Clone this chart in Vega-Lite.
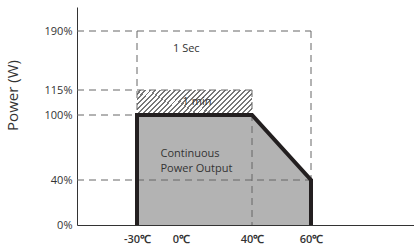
{
  "$schema": "https://vega.github.io/schema/vega-lite/v6.json",
  "autosize": "none",
  "width": 337,
  "height": 218,
  "padding": {"left": 77, "top": 7, "right": 0, "bottom": 24},
  "background": "white",
  "config": {"view": {"stroke": null}, "font": "Open Sans"},
  "datasets": {
    "area": [{"t": -30, "p": 100}, {"t": 40, "p": 100}, {"t": 60, "p": 40}],
    "hatch": [{"t": -30, "t2": 40, "p": 100, "p2": 115}],
    "dashes": [
      {"x": -71, "x2": 60, "y": 190, "y2": 190},
      {"x": 60, "x2": 60, "y": 190, "y2": 40},
      {"x": -30, "x2": -30, "y": 190, "y2": 100},
      {"x": -71, "x2": 40, "y": 115, "y2": 115},
      {"x": -71, "x2": -30, "y": 100, "y2": 100},
      {"x": -71, "x2": 60, "y": 40, "y2": 40},
      {"x": 40, "x2": 40, "y": 115, "y2": 0}
    ],
    "outline": [
      {"o": 1, "t": -30, "p": 0},
      {"o": 2, "t": -30, "p": 100},
      {"o": 3, "t": 40, "p": 100},
      {"o": 4, "t": 60, "p": 40},
      {"o": 5, "t": 60, "p": 0}
    ],
    "clabels": [
      {"t": 3, "p": 167, "text": "1 Sec"},
      {"t": 9, "p": 108, "text": "1 min"}
    ],
    "llabels": [
      {"t": -14, "p": 64, "text": "Continuous"},
      {"t": -14, "p": 50, "text": "Power Output"}
    ]
  },
  "encoding": {
    "x": {
      "type": "quantitative",
      "scale": {"domain": [-71, -30, 0, 40, 60, 95], "range": [0, 60, 104, 175, 234, 337], "zero": false, "nice": false},
      "axis": {"values": [-30, 0, 40, 60], "labelExpr": "datum.value + '℃'", "title": null, "ticks": false, "grid": false, "domainColor": "#333", "labelColor": "#333", "labelFontSize": 11, "labelPadding": 8, "labelFont": "Open Sans", "labelFontWeight": 600}
    },
    "y": {
      "type": "quantitative",
      "scale": {"domain": [0, 40, 100, 115, 190, 220], "range": [218, 173, 108, 83, 24, 0], "zero": false, "nice": false},
      "axis": {"values": [0, 40, 100, 115, 190], "labelExpr": "datum.value + '%'", "title": "Power (W)", "titleFontSize": 15, "titleFontWeight": "normal", "titleColor": "#333", "titleFont": "Open Sans", "titleX": -65, "titleY": 88, "titleAngle": -90, "titleAlign": "center", "titleBaseline": "middle", "ticks": false, "grid": false, "domainColor": "#333", "labelColor": "#333", "labelFontSize": 11, "labelPadding": 5, "labelFont": "Open Sans"}
    }
  },
  "layer": [
    {
      "data": {"name": "area"},
      "mark": {"type": "area", "color": "#b3b3b3"},
      "encoding": {"x": {"field": "t"}, "y": {"field": "p"}, "y2": {"datum": 0}}
    },
    {
      "data": {"name": "hatch"},
      "mark": {"type": "rect", "fill": {"gradient": "linear", "x1": 0, "y1": 0, "x2": 1.162, "y2": 0.252, "stops": [
        {"offset": 0, "color": "#fff"}, {"offset": 0.0214, "color": "#fff"}, {"offset": 0.0214, "color": "#777"}, {"offset": 0.0357, "color": "#777"},
        {"offset": 0.0357, "color": "#fff"}, {"offset": 0.0571, "color": "#fff"}, {"offset": 0.0571, "color": "#777"}, {"offset": 0.0714, "color": "#777"},
        {"offset": 0.0714, "color": "#fff"}, {"offset": 0.0929, "color": "#fff"}, {"offset": 0.0929, "color": "#777"}, {"offset": 0.1071, "color": "#777"},
        {"offset": 0.1071, "color": "#fff"}, {"offset": 0.1286, "color": "#fff"}, {"offset": 0.1286, "color": "#777"}, {"offset": 0.1429, "color": "#777"},
        {"offset": 0.1429, "color": "#fff"}, {"offset": 0.1643, "color": "#fff"}, {"offset": 0.1643, "color": "#777"}, {"offset": 0.1786, "color": "#777"},
        {"offset": 0.1786, "color": "#fff"}, {"offset": 0.2, "color": "#fff"}, {"offset": 0.2, "color": "#777"}, {"offset": 0.2143, "color": "#777"},
        {"offset": 0.2143, "color": "#fff"}, {"offset": 0.2357, "color": "#fff"}, {"offset": 0.2357, "color": "#777"}, {"offset": 0.25, "color": "#777"},
        {"offset": 0.25, "color": "#fff"}, {"offset": 0.2714, "color": "#fff"}, {"offset": 0.2714, "color": "#777"}, {"offset": 0.2857, "color": "#777"},
        {"offset": 0.2857, "color": "#fff"}, {"offset": 0.3071, "color": "#fff"}, {"offset": 0.3071, "color": "#777"}, {"offset": 0.3214, "color": "#777"},
        {"offset": 0.3214, "color": "#fff"}, {"offset": 0.3429, "color": "#fff"}, {"offset": 0.3429, "color": "#777"}, {"offset": 0.3571, "color": "#777"},
        {"offset": 0.3571, "color": "#fff"}, {"offset": 0.3786, "color": "#fff"}, {"offset": 0.3786, "color": "#777"}, {"offset": 0.3929, "color": "#777"},
        {"offset": 0.3929, "color": "#fff"}, {"offset": 0.4143, "color": "#fff"}, {"offset": 0.4143, "color": "#777"}, {"offset": 0.4286, "color": "#777"},
        {"offset": 0.4286, "color": "#fff"}, {"offset": 0.45, "color": "#fff"}, {"offset": 0.45, "color": "#777"}, {"offset": 0.4643, "color": "#777"},
        {"offset": 0.4643, "color": "#fff"}, {"offset": 0.4857, "color": "#fff"}, {"offset": 0.4857, "color": "#777"}, {"offset": 0.5, "color": "#777"},
        {"offset": 0.5, "color": "#fff"}, {"offset": 0.5214, "color": "#fff"}, {"offset": 0.5214, "color": "#777"}, {"offset": 0.5357, "color": "#777"},
        {"offset": 0.5357, "color": "#fff"}, {"offset": 0.5571, "color": "#fff"}, {"offset": 0.5571, "color": "#777"}, {"offset": 0.5714, "color": "#777"},
        {"offset": 0.5714, "color": "#fff"}, {"offset": 0.5929, "color": "#fff"}, {"offset": 0.5929, "color": "#777"}, {"offset": 0.6071, "color": "#777"},
        {"offset": 0.6071, "color": "#fff"}, {"offset": 0.6286, "color": "#fff"}, {"offset": 0.6286, "color": "#777"}, {"offset": 0.6429, "color": "#777"},
        {"offset": 0.6429, "color": "#fff"}, {"offset": 0.6643, "color": "#fff"}, {"offset": 0.6643, "color": "#777"}, {"offset": 0.6786, "color": "#777"},
        {"offset": 0.6786, "color": "#fff"}, {"offset": 0.7, "color": "#fff"}, {"offset": 0.7, "color": "#777"}, {"offset": 0.7143, "color": "#777"},
        {"offset": 0.7143, "color": "#fff"}, {"offset": 0.7357, "color": "#fff"}, {"offset": 0.7357, "color": "#777"}, {"offset": 0.75, "color": "#777"},
        {"offset": 0.75, "color": "#fff"}, {"offset": 0.7714, "color": "#fff"}, {"offset": 0.7714, "color": "#777"}, {"offset": 0.7857, "color": "#777"},
        {"offset": 0.7857, "color": "#fff"}, {"offset": 0.8071, "color": "#fff"}, {"offset": 0.8071, "color": "#777"}, {"offset": 0.8214, "color": "#777"},
        {"offset": 0.8214, "color": "#fff"}, {"offset": 0.8429, "color": "#fff"}, {"offset": 0.8429, "color": "#777"}, {"offset": 0.8571, "color": "#777"},
        {"offset": 0.8571, "color": "#fff"}, {"offset": 0.8786, "color": "#fff"}, {"offset": 0.8786, "color": "#777"}, {"offset": 0.8929, "color": "#777"},
        {"offset": 0.8929, "color": "#fff"}, {"offset": 0.9143, "color": "#fff"}, {"offset": 0.9143, "color": "#777"}, {"offset": 0.9286, "color": "#777"},
        {"offset": 0.9286, "color": "#fff"}, {"offset": 0.95, "color": "#fff"}, {"offset": 0.95, "color": "#777"}, {"offset": 0.9643, "color": "#777"},
        {"offset": 0.9643, "color": "#fff"}, {"offset": 0.9857, "color": "#fff"}, {"offset": 0.9857, "color": "#777"}, {"offset": 1, "color": "#777"}
      ]}},
      "encoding": {"x": {"field": "t"}, "x2": {"field": "t2"}, "y": {"field": "p"}, "y2": {"field": "p2"}}
    },
    {
      "data": {"name": "dashes"},
      "mark": {"type": "rule", "color": "#666", "strokeWidth": 1, "strokeDash": [7, 5]},
      "encoding": {"x": {"field": "x"}, "x2": {"field": "x2"}, "y": {"field": "y"}, "y2": {"field": "y2"}}
    },
    {
      "data": {"name": "outline"},
      "mark": {"type": "line", "color": "#231f20", "strokeWidth": 4, "strokeJoin": "miter", "strokeCap": "butt"},
      "encoding": {"x": {"field": "t"}, "y": {"field": "p"}, "order": {"field": "o"}}
    },
    {
      "data": {"name": "clabels"},
      "mark": {"type": "text", "fontSize": 11, "color": "#333", "baseline": "middle", "align": "center", "font": "Open Sans"},
      "encoding": {"x": {"field": "t"}, "y": {"field": "p"}, "text": {"field": "text"}}
    },
    {
      "data": {"name": "llabels"},
      "mark": {"type": "text", "fontSize": 11, "color": "#333", "baseline": "middle", "align": "left", "font": "Open Sans"},
      "encoding": {"x": {"field": "t"}, "y": {"field": "p"}, "text": {"field": "text"}}
    }
  ]
}
